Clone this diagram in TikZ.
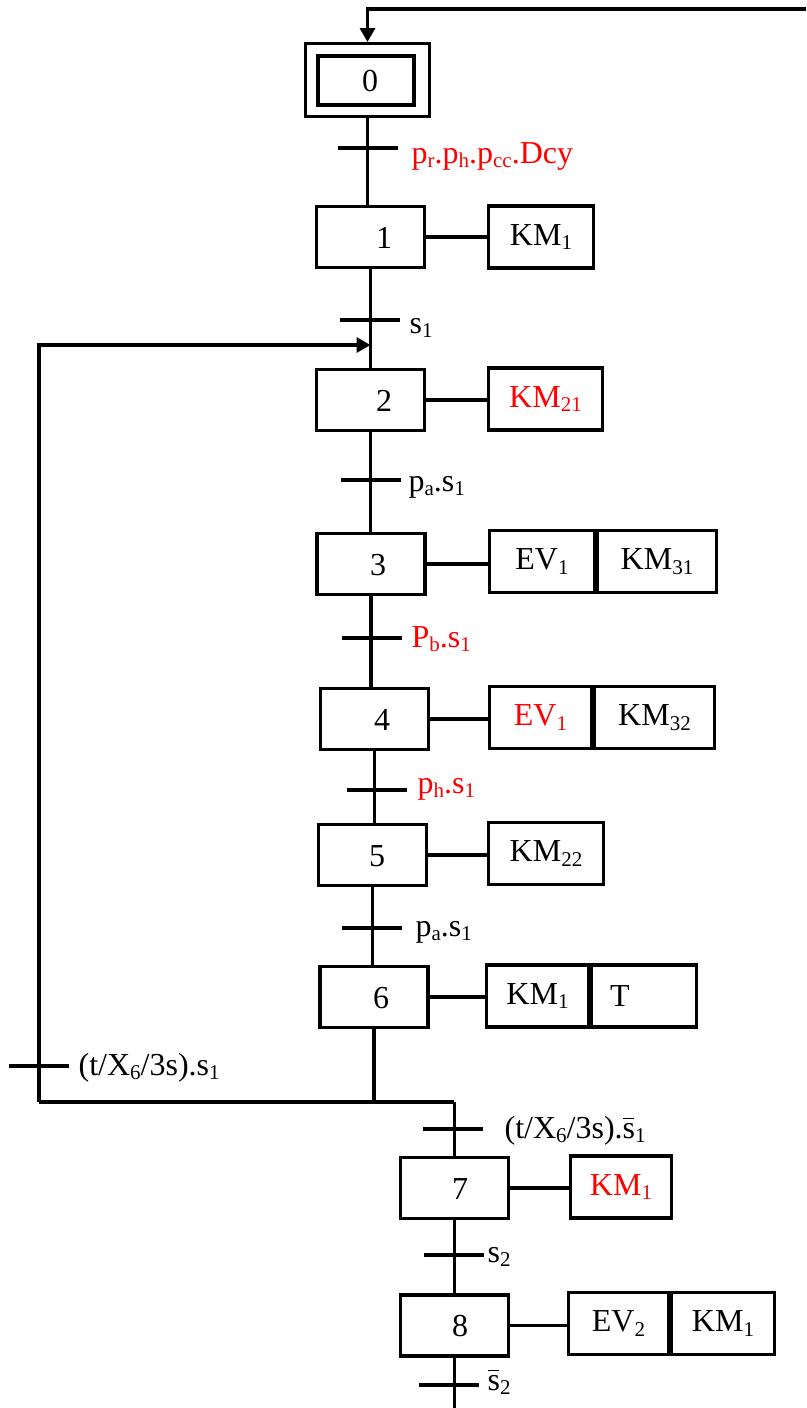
\documentclass[tikz,border=0pt]{standalone}
\usepackage{fontspec}
\setmainfont{Liberation Serif}
\usetikzlibrary{arrows.meta}
\newcommand\sbs[1]{\raisebox{-0.14em}{\fontsize{21}{21}\selectfont #1}}
\newcommand\bars[1]{\leavevmode\rlap{\rule[0.6em]{0.36em}{1.2pt}}#1}
\begin{document}
\begin{tikzpicture}[x=1pt,y=-1pt,line width=3.3pt,
  every node/.style={font=\fontsize{32}{38}\selectfont,inner sep=0pt},
  stepbox/.style={draw,rectangle,minimum width=108pt,minimum height=61pt},
  actbox/.style={draw,rectangle,minimum height=62pt},
  bartick/.style={line width=4pt},
  tlabel/.style={anchor=base west},
  tip/.style={-{Triangle[length=14pt,width=15pt]}}]
\useasboundingbox (0,0) rectangle (806,1408);

% ---- steps ----
\node[draw,rectangle,line width=3pt,minimum width=124pt,minimum height=73pt] (s0o) at (367.5,80) {};
\node[draw,rectangle,line width=4pt,minimum width=96pt,minimum height=49pt] (s0) at (366,80.5) {};
\node[anchor=base] (n0) at (370,91) {0};
\node[stepbox] (s1) at (370.5,237) {};  \node[anchor=base] (n1) at (384,248) {1};
\node[stepbox] (s2) at (370.5,400) {};  \node[anchor=base] (n2) at (384,411) {2};
\node[stepbox] (s3) at (371,564) {};    \node[anchor=base] (n3) at (378,575) {3};
\node[stepbox] (s4) at (374.5,719) {};  \node[anchor=base] (n4) at (382,730) {4};
\node[stepbox] (s5) at (372.5,855) {};  \node[anchor=base] (n5) at (377,866) {5};
\node[stepbox] (s6) at (374,997) {};    \node[anchor=base] (n6) at (381,1008) {6};
\node[stepbox] (s7) at (454.5,1188) {}; \node[anchor=base] (n7) at (460,1199) {7};
\node[stepbox] (s8) at (454.5,1325.5) {}; \node[anchor=base] (n8) at (460,1336) {8};

% ---- actions ----
\node[actbox,minimum width=105pt] (a1) at (541,237) {KM\sbs{1}};
\node[actbox,minimum width=114pt,text=red] (a2) at (545.5,399) {KM\sbs{21}};
\node[actbox,minimum width=105pt] (a3a) at (542,561.5) {EV\sbs{1}};
\node[actbox,minimum width=119pt] (a3b) at (657,561.5) {KM\sbs{31}};
\node[actbox,minimum width=102pt,text=red] (a4a) at (540.5,717.5) {EV\sbs{1}};
\node[actbox,minimum width=120pt] (a4b) at (654.5,717.5) {KM\sbs{32}};
\node[actbox,minimum width=115pt] (a5) at (546,853.5) {KM\sbs{22}};
\node[actbox,minimum width=102pt] (a6a) at (537.5,996) {KM\sbs{1}};
\node[actbox,minimum width=105pt] (a6b) at (644,996) {T\hspace*{48pt}\mbox{}};
\node[actbox,minimum width=101pt,text=red] (a7) at (621,1187) {KM\sbs{1}};
\node[actbox,minimum width=100pt] (a8a) at (618.5,1323.5) {EV\sbs{2}};
\node[actbox,minimum width=103pt] (a8b) at (723,1323.5) {KM\sbs{1}};

\draw (s1.east) -- (s1.east -| a1.west);
\draw (s2.east) -- (s2.east -| a2.west);
\draw (s3.east) -- (s3.east -| a3a.west);
\draw (s4.east) -- (s4.east -| a4a.west);
\draw (s5.east) -- (s5.east -| a5.west);
\draw (s6.east) -- (s6.east -| a6a.west);
\draw (s7.east) -- (s7.east -| a7.west);
\draw (s8.east) -- (s8.east -| a8a.west);

% ---- links ----
\coordinate (top) at (806,9);
\coordinate (loopL) at (39,345);
\coordinate (joinL) at (39,1102);
\coordinate (joinR) at (454,1102);
\coordinate (bottom) at (452,1408);
\draw[tip] (top) -- (top -| s0o.north) -- (s0o.north);
\draw (s0o.south) -- (s0o.south |- s1.north);
\draw (s1.south) -- (s1.south |- s2.north);
\draw (s2.south) -- (s2.south |- s3.north);
\draw (s3.south) -- (s3.south |- s4.north);
\draw (s4.south) -- (s4.south |- s5.north);
\draw (s5.south) -- (s5.south |- s6.north);
\draw (s6.south) -- (s6.south |- joinR);
\draw (joinL) -- (joinR);
\draw[tip] (joinL) -- (loopL) -- (loopL -| s1.south);
\draw (s7.north |- joinR) -- (s7.north);
\draw (s7.south) -- (s7.south |- s8.north);
\draw (s8.south) -- (s8.south |- bottom);

% ---- transitions ----
\coordinate (t1) at (368,148);
\coordinate (t2) at (370,320);
\coordinate (t3) at (371,480);
\coordinate (t4) at (372,638);
\coordinate (t5) at (377,790);
\coordinate (t6) at (372,928);
\coordinate (tL) at (39,1066);
\coordinate (t7) at (453,1129);
\coordinate (t8) at (454,1255);
\coordinate (t9) at (449,1385);
\foreach \t in {t1,t2,t3,t4,t5,t6,tL,t7,t8,t9}
  \draw[bartick] ([xshift=-30pt]\t) -- ([xshift=30pt]\t);

\node[tlabel,text=red] (l1) at (410,163) {p\sbs{r}.p\sbs{h}.p\sbs{cc}.Dcy};
\node[tlabel] (l2) at (408,333) {s\sbs{1}};
\node[tlabel] (l3) at (407,491) {p\sbs{a}.s\sbs{1}};
\node[tlabel,text=red] (l4) at (410,647) {P\sbs{b}.s\sbs{1}};
\node[tlabel,text=red] (l5) at (416,793) {p\sbs{h}.s\sbs{1}};
\node[tlabel] (l6) at (414,936) {p\sbs{a}.s\sbs{1}};
\node[tlabel] (lL) at (77,1075) {(t/X\sbs{6}/3s).s\sbs{1}};
\node[tlabel] (l7) at (503,1138) {(t/X\sbs{6}/3s).\bars{s}\sbs{1}};
\node[tlabel] (l8) at (486,1262) {s\sbs{2}};
\node[tlabel] (l9) at (486,1390) {\bars{s}\sbs{2}};
\end{tikzpicture}
\end{document}
